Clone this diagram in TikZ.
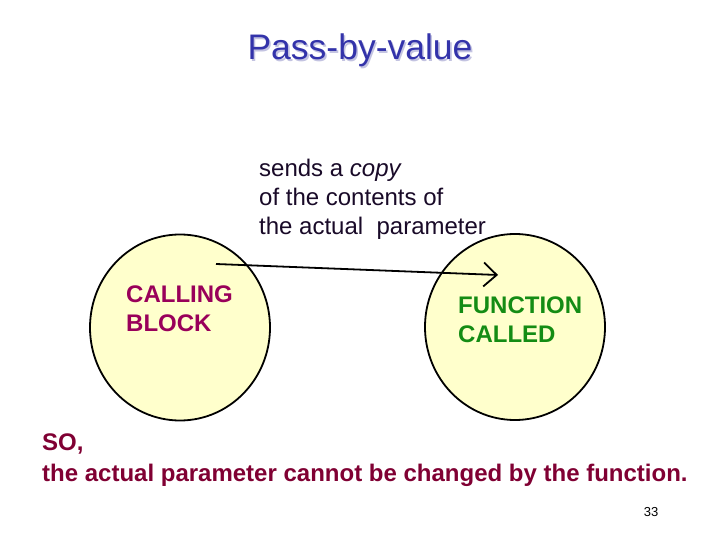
\documentclass[tikz,border=0pt]{standalone}
\usepackage{fontspec}
\setmainfont{Liberation Sans}
\usetikzlibrary{shapes.geometric,arrows.meta}
\definecolor{titleblue}{RGB}{51,51,170}
\definecolor{shadowblue}{RGB}{195,195,225}
\definecolor{callcol}{RGB}{153,0,90}
\definecolor{funccol}{RGB}{20,140,20}
\definecolor{socol}{RGB}{128,0,51}
\definecolor{bodytext}{RGB}{25,10,40}
\definecolor{blobfill}{RGB}{255,255,204}
\tikzset{
  blob/.style={ellipse, draw=black, line width=1.8pt, fill=blobfill, minimum width=180pt, minimum height=186pt, inner sep=0pt},
  txt/.style={anchor=base west, inner sep=0pt, font=\fontsize{24}{29}\selectfont},
  boldtxt/.style={txt, font=\fontsize{24}{29}\selectfont\bfseries},
  conn/.style={line width=1.8pt, -{Straight Barb[length=13pt,width=24pt,line width=1.8pt]}}
}
\begin{document}
\begin{tikzpicture}[x=1pt,y=-1pt]
\useasboundingbox (0,0) rectangle (720,540);
\fill[white] (0,0) rectangle (720,540);
% title
\node[anchor=base, inner sep=0pt, font=\fontsize{35.5}{40}\selectfont, text=shadowblue] (titlesh) at (361.6,61.6) {Pass-by-value};
\node[anchor=base, inner sep=0pt, font=\fontsize{35.5}{40}\selectfont, text=titleblue] (title) at (360,60) {Pass-by-value};
% circles
\node[blob] (cb) at (180,327.5) {};
\node[blob] (fc) at (515,327) {};
% text
\node[txt, text=bodytext] (s1) at (259,177) {sends a \textit{copy}};
\node[txt, text=bodytext] (s2) at (259,206) {of the contents of};
\node[txt, text=bodytext] (s3) at (259,235) {the actual\ \ parameter};
\node[boldtxt, text=callcol] (c1) at (126,302) {CALLING};
\node[boldtxt, text=callcol] (c2) at (126,331) {BLOCK};
\node[boldtxt, text=funccol] (f1) at (458,313) {FUNCTION};
\node[boldtxt, text=funccol] (f2) at (458,342) {CALLED};
\node[boldtxt, text=socol] (so1) at (42,450) {SO,};
\node[boldtxt, text=socol] (so2) at (42,481) {the actual parameter cannot be changed by the function.};
\node[anchor=base, inner sep=0pt, font=\fontsize{13}{15}\selectfont] (pg) at (651,516) {33};
% arrow
\coordinate (as) at (216,264);
\coordinate (ae) at (498,275);
\draw[conn] (as) -- (ae);
\end{tikzpicture}
\end{document}
